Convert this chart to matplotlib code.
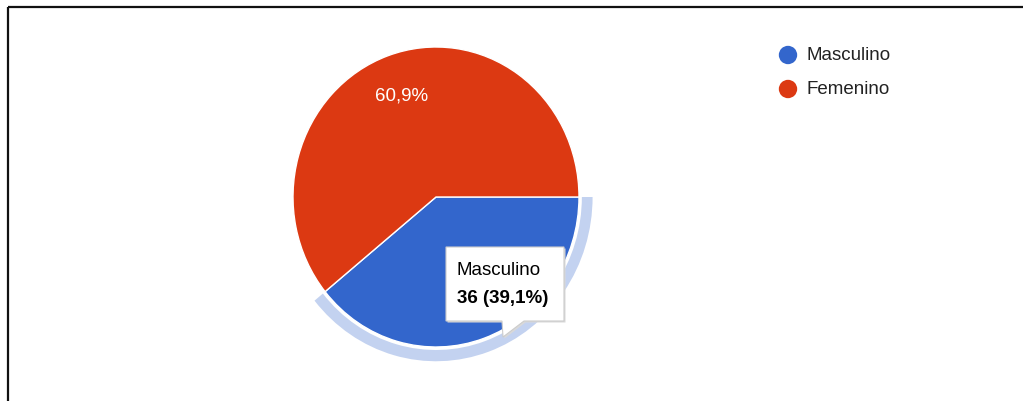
"""Pie chart of respondents by sex, with the Masculino slice highlighted."""

import matplotlib.pyplot as plt
from matplotlib.patches import Polygon, Wedge

plt.rcParams["font.family"] = ["Liberation Sans", "DejaVu Sans"]

# Data.
categories = ["Masculino", "Femenino"]
values = [36, 56]
colors = ["#3366CC", "#DC3912"]


def pct_label(pct):
    return f"{pct:.1f}%".replace(".", ",")


fig = plt.figure(figsize=(10.23, 4.02), dpi=100)
W, H = 1023, 402

# Pie axes, placed in pixels (center 436,198; radii 143 x 150).
cx, cy, rx, ry = 436, 198, 143, 150
ax = fig.add_axes([
    (cx - 1.25 * rx) / W,
    (H - cy - 1.25 * ry) / H,
    2.5 * rx / W,
    2.5 * ry / H,
])
wedges, texts, autotexts = ax.pie(
    values,
    colors=colors,
    startangle=0,
    counterclock=False,
    autopct=pct_label,
    pctdistance=0.72,
    wedgeprops=dict(edgecolor="white", linewidth=1),
    textprops=dict(color="white", fontsize=13.5),
)
ax.set_aspect("auto")
ax.set_xlim(-1.25, 1.25)
ax.set_ylim(-1.25, 1.25)

# The first slice's label sits under the tooltip.
autotexts[0].set_visible(False)

# Hover highlight ring around the first slice.
span = 360 * values[0] / sum(values)
ax.add_patch(Wedge((0, 0), 1.095, -span, 0, width=0.075,
                   facecolor="#c3d2f0", edgecolor="none"))

# Overlay axes in pixel coordinates for border, legend and tooltip.
ov = fig.add_axes([0, 0, 1, 1], zorder=5)
ov.set_xlim(0, W)
ov.set_ylim(H, 0)
ov.axis("off")
ov.patch.set_visible(False)

# Frame lines (top and left).
ov.plot([8, W], [8, 8], color="#111111", lw=1.6, solid_capstyle="butt")
ov.plot([8, 8], [8, H], color="#111111", lw=1.6, solid_capstyle="butt")

# Legend.
for i, (cat, col) in enumerate(zip(categories, colors)):
    y = 56 + 34 * i
    ov.scatter([788], [y], s=175, color=col, edgecolors="none")
    ov.text(806, y, cat, fontsize=13.5, color="#222222",
            va="center", ha="left")

# Tooltip.
tip = [(446, 248), (564, 248), (564, 322), (524, 322),
       (503, 338), (502, 322), (446, 322)]
shadow = [(x + 1.5, y + 1.5) for x, y in tip]
ov.add_patch(Polygon(shadow, closed=True, facecolor="#d9d9d9",
                     edgecolor="none"))
ov.add_patch(Polygon(tip, closed=True, facecolor="white",
                     edgecolor="#cccccc", lw=0.8))
pct0 = pct_label(100 * values[0] / sum(values))
ov.text(457, 271, categories[0], fontsize=13.5, color="#000000",
        va="center", ha="left")
ov.text(457, 299, f"{values[0]} ({pct0})", fontsize=13.5,
        fontweight="bold", color="#000000", va="center", ha="left")

fig.savefig("out.png", dpi=100, facecolor="white")
